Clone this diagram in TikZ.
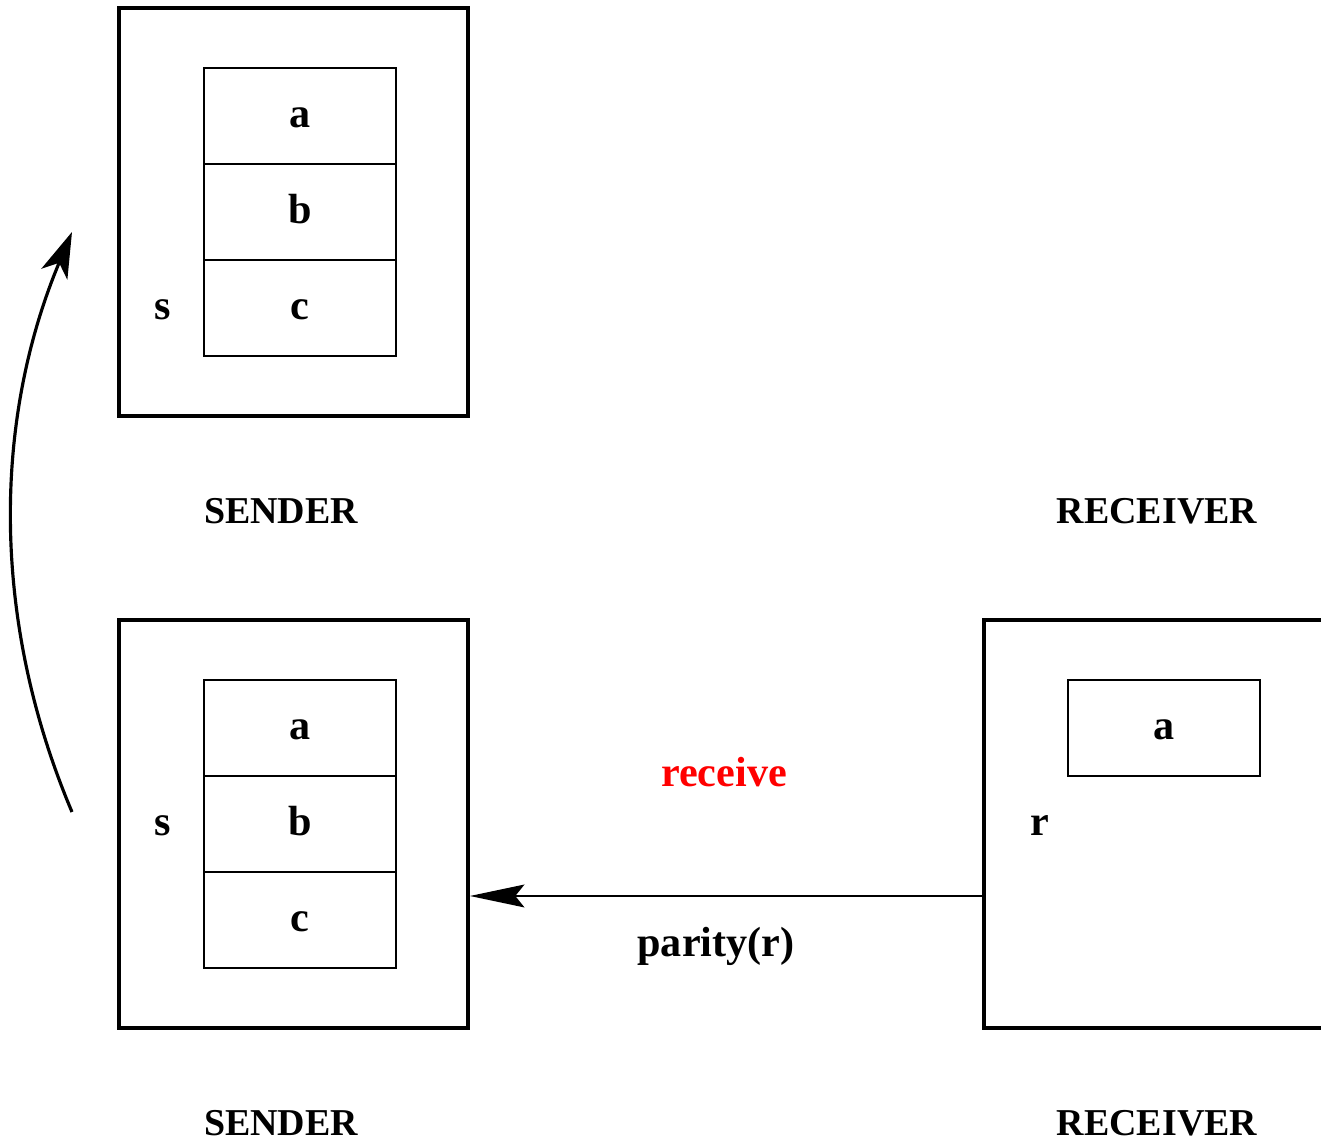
\documentclass[tikz,border=0pt]{standalone}
\usepackage{fontspec}
\setmainfont{Liberation Serif}
\usetikzlibrary{arrows.meta,positioning,calc}
\definecolor{recvred}{HTML}{FF0000}

\begin{document}
\begin{tikzpicture}[
  >=Stealth,
  font=\bfseries\fontsize{12}{14}\selectfont,
  every node/.style={text height=6.8pt, text depth=0pt},
  proc/.style={rectangle, draw, line width=1.1pt, inner sep=0pt, minimum width=3.49cm, minimum height=4.08cm},
  slot/.style={rectangle, draw, line width=0.3pt, inner sep=0pt, minimum width=1.92cm, minimum height=0.96cm},
  title/.style={font=\bfseries\fontsize{10.8}{13}\selectfont, text height=7.3pt},
  flow/.style={-{Stealth[length=15.5pt, width=6.5pt, inset=2.6pt]}, line width=0.55pt},
  loop/.style={-{Stealth[length=13pt, width=8pt, inset=3.5pt]}, line width=0.9pt}
]
  \clip (0,0) rectangle (13.21,11.43);

  % sender after the step
  \node[proc] (send1) at (2.935,9.31) {};
  \node[slot] (a1) at (3.00,10.27) {a};
  \node[slot] (b1) at (3.00,9.31) {b};
  \node[slot] (c1) at (3.00,8.35) {c};
  \node (s1) at (1.63,8.35) {s};
  \node[title] (sendt1) at (2.81,6.32) {SENDER};
  \node[title] (recvt1) at (11.57,6.32) {RECEIVER};

  % sender and receiver before the step
  \node[proc] (send2) at (2.935,3.19) {};
  \node[slot] (a2) at (3.00,4.15) {a};
  \node[slot] (b2) at (3.00,3.19) {b};
  \node[slot] (c2) at (3.00,2.23) {c};
  \node (s2) at (1.63,3.19) {s};
  \node[title] (sendt2) at (2.81,0.20) {SENDER};

  \node[proc] (recv) at (11.585,3.19) {};
  \node[slot] (ar) at (11.64,4.15) {a};
  \node (r) at (10.40,3.19) {r};
  \node[title] (recvt2) at (11.57,0.20) {RECEIVER};

  % message
  \coordinate (rx) at ($(recv.west)+(0,-0.72)$);
  \draw[flow] (rx) -- (rx -| send2.east);
  \node[text=recvred] (lbl) at (7.24,3.68) {receive};
  \node (msg) at (7.16,1.98) {parity(r)};

  % step arrow
  \coordinate (cs) at (0.72,3.31);
  \coordinate (ct) at (0.72,9.11);
  \draw[loop] (cs) .. controls (-0.08,5.2) and (-0.08,7.2) .. (ct);
\end{tikzpicture}
\end{document}
